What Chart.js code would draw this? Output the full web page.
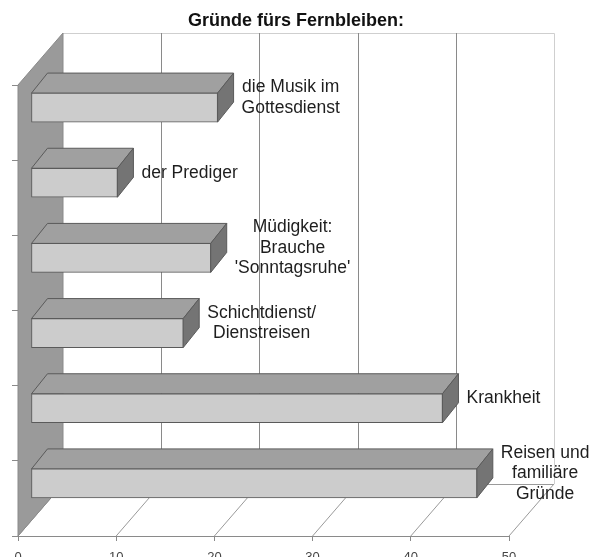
<!DOCTYPE html>
<html><head><meta charset="utf-8">
<script src="https://cdn.jsdelivr.net/npm/chart.js@4"></script>
<style>html,body{margin:0;padding:0;background:#fff}#wrap{width:592px;height:557px}</style>
</head><body><div id="wrap"><canvas id="c" width="592" height="557"></canvas></div>
<script>
const chartTitle = "Gründe fürs Fernbleiben:";
const categories = [
  ["die Musik im", "Gottesdienst"],
  ["der Prediger"],
  ["Müdigkeit:", "Brauche", "'Sonntagsruhe'"],
  ["Schichtdienst/", "Dienstreisen"],
  ["Krankheit"],
  ["Reisen und", "familiäre", "Gründe"]
];
const values = [19, 8.8, 18.3, 15.5, 41.9, 45.4];
const xTicks = [0, 10, 20, 30, 40, 50];

// 3D geometry (pixels)
const WALL_DX = 45, WALL_DY = 52;   // full depth of the box
const BAR_FX = 13, BAR_FY = 15;     // shift of bar front face from front plane
const BAR_DX = 16, BAR_DY = 20;     // depth of each bar

const threeD = {
  id: 'threeD',
  beforeDraw(chart) {
    const ctx = chart.ctx, a = chart.chartArea, xs = chart.scales.x;
    ctx.save();
    ctx.fillStyle = '#fff';
    ctx.fillRect(0, 0, chart.width, chart.height);
    const bl = a.left + WALL_DX, br = a.right + WALL_DX, bt = a.top - WALL_DY, bb = a.bottom - WALL_DY;
    // back plane border
    ctx.strokeStyle = '#cfcfcf'; ctx.lineWidth = 1;
    ctx.beginPath();
    ctx.moveTo(bl, bt + 0.5); ctx.lineTo(br + 0.5, bt + 0.5); ctx.lineTo(br + 0.5, bb);
    ctx.stroke();
    // back gridlines
    ctx.strokeStyle = '#8a8a8a';
    xTicks.forEach(v => {
      if (v === xTicks[0] || v === xTicks[xTicks.length - 1]) return;
      const px = Math.round(xs.getPixelForValue(v) + WALL_DX) + 0.5;
      ctx.beginPath(); ctx.moveTo(px, bt); ctx.lineTo(px, bb); ctx.stroke();
    });
    // floor lines
    ctx.strokeStyle = '#9a9a9a';
    xTicks.forEach(v => {
      const px = xs.getPixelForValue(v);
      ctx.beginPath(); ctx.moveTo(px, a.bottom); ctx.lineTo(px + WALL_DX, bb); ctx.stroke();
    });
    ctx.beginPath(); ctx.moveTo(bl, bb + 0.5); ctx.lineTo(br, bb + 0.5); ctx.stroke();
    // left wall
    ctx.fillStyle = '#9a9a9a'; ctx.strokeStyle = '#8a8a8a';
    ctx.beginPath();
    ctx.moveTo(a.left, a.top); ctx.lineTo(bl, bt); ctx.lineTo(bl, bb); ctx.lineTo(a.left, a.bottom);
    ctx.closePath(); ctx.fill(); ctx.stroke();
    ctx.restore();
  },
  beforeDatasetsDraw(chart) {
    const ctx = chart.ctx;
    const meta = chart.getDatasetMeta(0);
    ctx.save();
    ctx.lineWidth = 1; ctx.strokeStyle = '#5a5a5a'; ctx.lineJoin = 'miter';
    meta.data.forEach(bar => {
      const p = bar.getProps(['x', 'y', 'base', 'height'], true);
      const x0 = p.base + BAR_FX, x1 = p.x + BAR_FX;
      const t = p.y - p.height / 2 - BAR_FY, b = p.y + p.height / 2 - BAR_FY;
      // top face
      ctx.fillStyle = '#a0a0a0';
      ctx.beginPath();
      ctx.moveTo(x0, t); ctx.lineTo(x1, t); ctx.lineTo(x1 + BAR_DX, t - BAR_DY); ctx.lineTo(x0 + BAR_DX, t - BAR_DY);
      ctx.closePath(); ctx.fill(); ctx.stroke();
      // side face
      ctx.fillStyle = '#747474';
      ctx.beginPath();
      ctx.moveTo(x1, t); ctx.lineTo(x1 + BAR_DX, t - BAR_DY); ctx.lineTo(x1 + BAR_DX, b - BAR_DY); ctx.lineTo(x1, b);
      ctx.closePath(); ctx.fill(); ctx.stroke();
    });
    ctx.restore();
    ctx.save();
    ctx.translate(BAR_FX, -BAR_FY);
  },
  afterDatasetsDraw(chart) {
    chart.ctx.restore();
  },
  afterDraw(chart) {
    const ctx = chart.ctx;
    const meta = chart.getDatasetMeta(0);
    ctx.save();
    ctx.fillStyle = '#1e1e1e';
    ctx.font = '17.5px "Liberation Sans", Arial, sans-serif';
    ctx.textAlign = 'center'; ctx.textBaseline = 'middle';
    meta.data.forEach((bar, i) => {
      const p = bar.getProps(['x', 'y', 'height'], true);
      const lines = categories[i];
      const maxW = Math.max(...lines.map(s => ctx.measureText(s).width));
      const cx = p.x + BAR_FX + BAR_DX + 8 + maxW / 2;
      const cy = p.y - BAR_FY - BAR_DY / 2;
      lines.forEach((s, j) => ctx.fillText(s, cx, cy + (j - (lines.length - 1) / 2) * 20.5));
    });
    ctx.font = 'bold 18px "Liberation Sans", Arial, sans-serif';
    ctx.textBaseline = 'alphabetic';
    ctx.fillStyle = '#111';
    ctx.fillText(chartTitle, 296, 26);
    ctx.restore();
  }
};

new Chart(document.getElementById('c'), {
  type: 'bar',
  data: {
    labels: categories.map(c => c.join(' ')),
    datasets: [{
      data: values,
      backgroundColor: '#cccccc',
      borderColor: '#5a5a5a',
      borderWidth: 1,
      borderSkipped: false,
      barThickness: 29,
      clip: false
    }]
  },
  options: {
    indexAxis: 'y',
    responsive: false,
    animation: false,
    devicePixelRatio: 1,
    layout: { padding: { left: 0, right: 83, top: 85, bottom: 0 } },
    plugins: { legend: { display: false }, title: { display: false }, tooltip: { enabled: false } },
    scales: {
      x: {
        min: 0, max: 50,
        afterBuildTicks: s => { s.ticks = xTicks.map(v => ({ value: v })); },
        grid: { drawOnChartArea: false, drawTicks: true, tickLength: 5, color: '#8a8a8a' },
        border: { display: true, color: '#8a8a8a' },
        ticks: { font: { family: '"Liberation Sans", Arial, sans-serif', size: 13 }, color: '#444', padding: 9, maxRotation: 0, autoSkip: false },
        afterFit: s => { s.height = 21; }
      },
      y: {
        grid: { drawOnChartArea: false, drawTicks: true, tickLength: 6, color: '#8a8a8a', offset: true },
        border: { display: false },
        ticks: { display: false },
        afterFit: s => { s.width = 18; }
      }
    }
  },
  plugins: [threeD]
});
</script>
</body></html>
